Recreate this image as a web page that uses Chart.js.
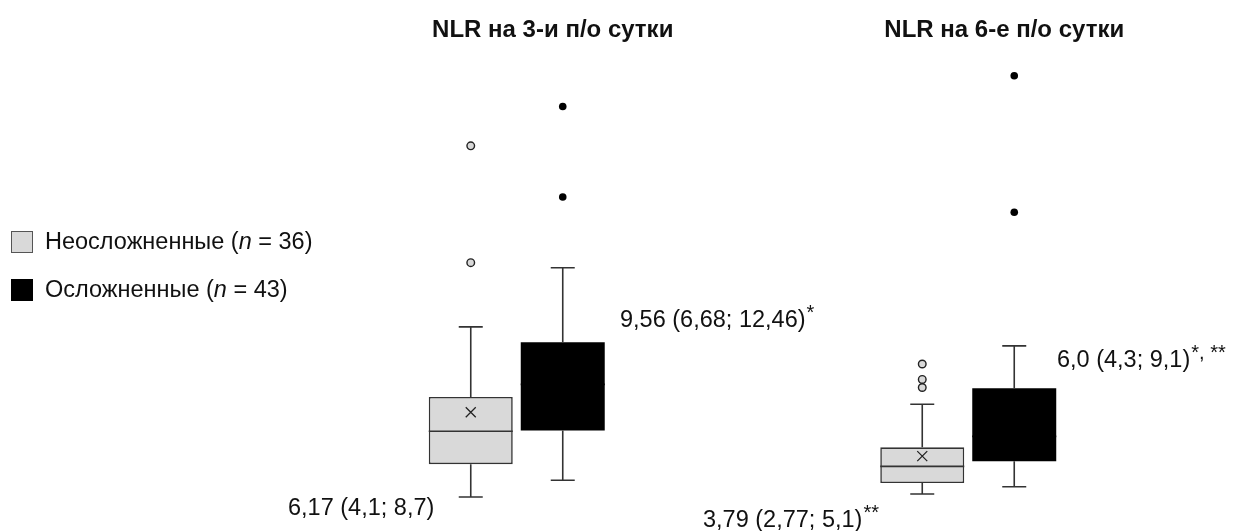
<!DOCTYPE html>
<html>
<head>
<meta charset="utf-8">
<script src="https://cdn.jsdelivr.net/npm/chart.js@4.4.1/dist/chart.umd.min.js"></script>
<style>
  html, body { margin: 0; background: #fff; }
  #wrap { width: 1235px; height: 531px; }
</style>
</head>
<body>
<div id="wrap"><canvas id="c"></canvas></div>
<script>
// --- data ------------------------------------------------------------------
const categories = ["NLR на 3-и п/о сутки", "NLR на 6-е п/о сутки"];
const groupNames = ["Неосложненные", "Осложненные"];
const groupN = [36, 43];

// Неосложненные
const q1A = [4.1, 2.8];
const medA = [6.35, 3.95];
const q3A = [8.7, 5.25];
const meanA = [7.65, 4.65];
const lowA = [1.85, 2.05];
const highA = [13.5, 8.2];
const outA = [[17.9, 25.9], [9.35, 9.9, 10.96]];

// Осложненные
const q1B = [6.4, 4.3];
const medB = [9.56, 6.0];
const q3B = [12.45, 9.3];
const lowB = [3.0, 2.55];
const highB = [17.55, 12.2];
const outB = [[22.4, 28.6], [21.35, 30.7]];

// medians with IQR as printed on the figure
const labelA = ["6,17 (4,1; 8,7)", "3,79 (2,77; 5,1)"];
const supA = ["", "**"];
const labelB = ["9,56 (6,68; 12,46)", "6,0 (4,3; 9,1)"];
const supB = ["*", "*, **"];

const FONT = '"Liberation Sans", Arial, sans-serif';
const C = { light: "#d9d9d9", dark: "#000000", edge: "#333333", ink: "#111111" };

const stats = [
  { q1: q1A, med: medA, q3: q3A, mean: meanA, low: lowA, high: highA, out: outA },
  { q1: q1B, med: medB, q3: q3B, mean: null, low: lowB, high: highB, out: outB },
];

// text with a raised small suffix
function textSup(ctx, str, sup, x, y) {
  ctx.font = `23.5px ${FONT}`;
  ctx.fillText(str, x, y);
  if (!sup) return;
  const w = ctx.measureText(str).width;
  ctx.font = `20px ${FONT}`;
  ctx.fillText(sup, x + w + 1, y - 8);
}

const boxPlot = {
  id: "boxPlot",
  afterDatasetsDraw(chart) {
    const { ctx, scales } = chart;
    const y = scales.y;
    stats.forEach((s, d) => {
      const meta = chart.getDatasetMeta(d);
      meta.data.forEach((bar, i) => {
        const x = bar.x;
        const cap = 12;
        ctx.save();
        ctx.strokeStyle = C.edge;
        ctx.lineWidth = 1.6;
        // whiskers
        ctx.beginPath();
        ctx.moveTo(x, y.getPixelForValue(s.q3[i]));
        ctx.lineTo(x, y.getPixelForValue(s.high[i]));
        ctx.moveTo(x - cap, y.getPixelForValue(s.high[i]));
        ctx.lineTo(x + cap, y.getPixelForValue(s.high[i]));
        ctx.moveTo(x, y.getPixelForValue(s.q1[i]));
        ctx.lineTo(x, y.getPixelForValue(s.low[i]));
        ctx.moveTo(x - cap, y.getPixelForValue(s.low[i]));
        ctx.lineTo(x + cap, y.getPixelForValue(s.low[i]));
        ctx.stroke();
        // median
        const half = bar.width / 2;
        ctx.strokeStyle = d === 0 ? C.edge : C.dark;
        ctx.beginPath();
        ctx.moveTo(x - half, y.getPixelForValue(s.med[i]));
        ctx.lineTo(x + half, y.getPixelForValue(s.med[i]));
        ctx.stroke();
        // mean marker
        if (s.mean) {
          const my = y.getPixelForValue(s.mean[i]);
          ctx.strokeStyle = "#222";
          ctx.lineWidth = 1.3;
          ctx.beginPath();
          ctx.moveTo(x - 5, my - 5); ctx.lineTo(x + 5, my + 5);
          ctx.moveTo(x + 5, my - 5); ctx.lineTo(x - 5, my + 5);
          ctx.stroke();
        }
        // outliers
        s.out[i].forEach((v) => {
          ctx.beginPath();
          ctx.arc(x, y.getPixelForValue(v), 3.8, 0, Math.PI * 2);
          if (d === 0) {
            ctx.fillStyle = C.light; ctx.fill();
            ctx.strokeStyle = "#222"; ctx.lineWidth = 1.4; ctx.stroke();
          } else {
            ctx.fillStyle = C.dark; ctx.fill();
          }
        });
        ctx.restore();
      });
    });

    // titles and value labels
    const x = scales.x;
    ctx.save();
    ctx.fillStyle = C.ink;
    ctx.textBaseline = "alphabetic";
    ctx.textAlign = "center";
    ctx.font = `bold 24px ${FONT}`;
    categories.forEach((c, i) => ctx.fillText(c, x.getPixelForValue(i) + 36, 37));
    ctx.textAlign = "left";
    textSup(ctx, labelA[0], supA[0], 288, 515);
    textSup(ctx, labelA[1], supA[1], 703, 527);
    textSup(ctx, labelB[0], supB[0], 620, 327);
    textSup(ctx, labelB[1], supB[1], 1057, 367);

    // legend
    const fills = [C.light, C.dark];
    groupNames.forEach((g, k) => {
      const top = 231 + k * 48;
      ctx.fillStyle = fills[k];
      ctx.fillRect(11, top, 22, 22);
      if (k === 0) { ctx.strokeStyle = "#555"; ctx.lineWidth = 1; ctx.strokeRect(11.5, top + 0.5, 21, 21); }
      ctx.fillStyle = C.ink;
      let tx = 45;
      const base = top + 18;
      const parts = [[`${g} (`, ""], ["n", "italic "], [` = ${groupN[k]})`, ""]];
      parts.forEach(([t, st]) => {
        ctx.font = `${st}23.5px ${FONT}`;
        ctx.fillText(t, tx, base);
        tx += ctx.measureText(t).width;
      });
    });
    ctx.restore();
  },
};

new Chart(document.getElementById("c"), {
  type: "bar",
  data: {
    labels: categories,
    datasets: [
      {
        label: groupNames[0],
        data: q1A.map((v, i) => [v, q3A[i]]),
        backgroundColor: C.light,
        borderColor: C.edge,
        borderWidth: 1.6,
        borderSkipped: false,
      },
      {
        label: groupNames[1],
        data: q1B.map((v, i) => [v, q3B[i]]),
        backgroundColor: C.dark,
        borderWidth: 0,
      },
    ],
  },
  options: {
    responsive: true,
    maintainAspectRatio: false,
    animation: false,
    layout: { padding: { left: 291, right: 41, top: 13, bottom: 7 } },
    datasets: { bar: { categoryPercentage: 0.4075, barPercentage: 0.913 } },
    plugins: { legend: { display: false }, tooltip: { enabled: false } },
    scales: {
      x: { display: false, offset: true },
      y: { display: false, min: 0, max: 35 },
    },
  },
  plugins: [boxPlot],
});
</script>
</body>
</html>
